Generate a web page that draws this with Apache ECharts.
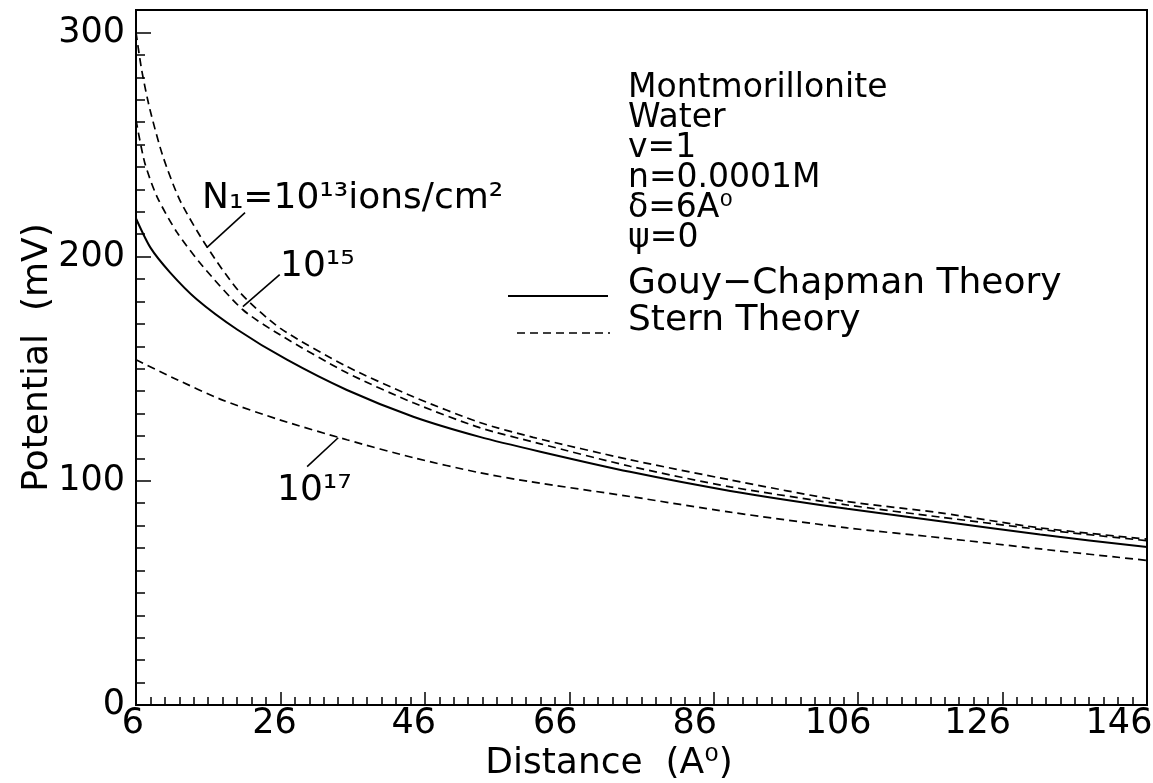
<!DOCTYPE html>
<html><head><meta charset="utf-8">
<script src="https://cdn.jsdelivr.net/npm/echarts/dist/echarts.min.js"></script>
<style>html,body{margin:0;padding:0;background:#fff}#c{width:1153px;height:783px}</style>
</head><body><div id="c"></div>
<script>
// ---- data ----
const xTicks = [6, 26, 46, 66, 86, 106, 126, 146];
const yTicks = [0, 100, 200, 300];
// Gouy-Chapman theory (solid)
const gcX = [6, 8, 10.7, 14.4, 20, 26.9, 35.2, 44.4, 53.6, 62, 74.4, 88.3, 104.5, 117.4, 131.2, 146];
const gcY = [217, 204, 193, 181, 167.5, 154, 140.5, 128.6, 119.6, 113, 104, 95.5, 87.5, 82, 76, 70.5];
// Stern theory, N1 = 1e13 ions/cm2
const s13X = [6, 6.8, 7.9, 9.7, 12.1, 15.8, 20.4, 26, 35.2, 44.4, 53.6, 61, 74.4, 88.3, 104, 117.4, 131.2, 146];
const s13Y = [300, 283, 266, 245, 225, 204.5, 184, 168, 151, 137.5, 126, 119.4, 109.4, 100.4, 91, 85.7, 79, 74];
// Stern theory, N1 = 1e15
const s15X = [6, 7.2, 8.9, 11.7, 15.3, 20.8, 26, 35.2, 44.4, 53.6, 62, 74.4, 88.3, 104.5, 117.4, 131.2, 146];
const s15Y = [261, 242, 226.8, 210.7, 195.5, 176.3, 165, 148.2, 134.8, 123.7, 116.5, 106.5, 97.3, 89.2, 83.8, 78.3, 73.3];
// Stern theory, N1 = 1e17
const s17X = [6, 11.1, 18, 25.9, 35.2, 44.4, 53.6, 60.6, 74.4, 88.3, 104.5, 117.4, 131.2, 146];
const s17Y = [154, 146, 136, 127.2, 118.3, 110.3, 103.6, 99.6, 93, 86, 79, 74.6, 69.6, 64.5];
const seriesNames = ['Gouy\u2212Chapman Theory', 'Stern Theory'];
const paramLines = ['Montmorillonite', 'Water', 'v=1', 'n=0.0001M', '\u03b4=6A\u2070', '\u03c8=0'];
const curveLabels = ['N\u2081=10\u00b9\u00b3ions/cm\u00b2', '10\u00b9\u2075', '10\u00b9\u2077'];
// leader lines [from, to] in data units
const leader13 = [[21.1, 219.6], [15.8, 204]];
const leader15 = [[25.9, 192], [20.8, 177.7]];
const leader17 = [[29.7, 106.3], [34, 119.2]];

// ---- layout / style ----
const FONT = 'DejaVu Sans';
const BLACK = '#000';
const xLabelShift = [-3, -6, -11, -14, -19, -20, -25, -28];
const pairs = (xs, ys) => xs.map((x, i) => [x, ys[i]]);

const rich = {};
xLabelShift.forEach((s, i) => {
  rich['o' + i] = { fontFamily: FONT, fontSize: 35, color: BLACK, padding: s < 0 ? [0, -2 * s, 0, 0] : [0, 0, 0, 2 * s] };
});

const chart = echarts.init(document.getElementById('c'));
const leaderStyle = { type: 'solid', color: BLACK, width: 1.6 };
const mkLeader = (seg) => ({
  silent: true, symbol: ['none', 'none'], animation: false,
  label: { show: false }, lineStyle: leaderStyle, emphasis: { disabled: true },
  data: [[{ coord: seg[0] }, { coord: seg[1] }]]
});
const dashed = { type: [8, 5], color: BLACK, width: 1.7 };
const SMOOTH = 0.25;

const option = {
  animation: false,
  backgroundColor: '#fff',
  textStyle: { fontFamily: FONT },
  grid: { left: 136, right: 6, top: 10, bottom: 78, show: true, borderColor: BLACK, borderWidth: 2, containLabel: false, outerBoundsMode: 'none' },
  xAxis: {
    type: 'value', min: xTicks[0], max: xTicks[xTicks.length - 1], interval: xTicks[1] - xTicks[0],
    name: 'Distance\u00a0\u00a0(A\u2070)', nameLocation: 'middle', nameGap: 41, nameMoveOverlap: false,
    nameTextStyle: { fontFamily: FONT, fontSize: 36, color: BLACK, padding: [0, 65, 0, 0] },
    axisLine: { show: true, lineStyle: { color: BLACK, width: 2 } },
    axisTick: { show: true, inside: true, length: 13, lineStyle: { color: BLACK, width: 1.5 } },
    minorTick: { show: true, splitNumber: 10, length: 8, lineStyle: { color: BLACK, width: 1.5 } },
    splitLine: { show: false }, minorSplitLine: { show: false },
    axisLabel: {
      show: true, margin: 1, showMinLabel: true, showMaxLabel: true, hideOverlap: false,
      formatter: (v) => { const i = xTicks.indexOf(Math.round(v)); return '{o' + i + '|' + v + '}'; },
      rich: rich
    }
  },
  yAxis: [{
    type: 'value', min: yTicks[0], max: 310, interval: yTicks[1] - yTicks[0],
    name: 'Potential  (mV)', nameLocation: 'middle', nameGap: 80, nameRotate: 90, nameMoveOverlap: false,
    nameTextStyle: { fontFamily: FONT, fontSize: 36, color: BLACK },
    axisLine: { show: true, lineStyle: { color: BLACK, width: 2 } },
    axisTick: { show: true, inside: true, length: 15, lineStyle: { color: BLACK, width: 1.5 } },
    splitLine: { show: false },
    axisLabel: { show: true, margin: 11, fontFamily: FONT, fontSize: 35, color: BLACK, showMinLabel: true, showMaxLabel: false, hideOverlap: false,
      formatter: (v) => (yTicks.indexOf(v) >= 0 ? String(v) : '') }
  }, {
    type: 'value', min: yTicks[0], max: 310, interval: 10, position: 'left',
    axisLine: { show: false }, splitLine: { show: false }, axisLabel: { show: false },
    axisTick: { show: true, inside: true, length: 9, lineStyle: { color: BLACK, width: 1.5 } }
  }],
  series: [
    { name: seriesNames[0], type: 'line', data: pairs(gcX, gcY), symbol: 'none', smooth: SMOOTH,
      lineStyle: { type: 'solid', color: BLACK, width: 2 }, itemStyle: { color: BLACK }, z: 3,
      emphasis: { disabled: true }, markLine: mkLeader(leader13) },
    { name: seriesNames[1], type: 'line', data: pairs(s13X, s13Y), symbol: 'none', smooth: SMOOTH,
      lineStyle: dashed, itemStyle: { color: BLACK }, emphasis: { disabled: true }, markLine: mkLeader(leader15) },
    { name: seriesNames[1], type: 'line', data: pairs(s15X, s15Y), symbol: 'none', smooth: SMOOTH,
      lineStyle: dashed, itemStyle: { color: BLACK }, emphasis: { disabled: true }, markLine: mkLeader(leader17) },
    { name: seriesNames[1], type: 'line', data: pairs(s17X, s17Y), symbol: 'none', smooth: SMOOTH,
      lineStyle: dashed, itemStyle: { color: BLACK }, emphasis: { disabled: true } }
  ],
  graphic: [
    { type: 'text', left: 628, top: 72, silent: true,
      style: { text: paramLines.join('\n'), fontFamily: FONT, fontSize: 33, lineHeight: 30, fill: BLACK } },
    // legend
    { type: 'line', silent: true, shape: { x1: 508, y1: 296, x2: 608, y2: 296 }, style: { stroke: BLACK, lineWidth: 2 } },
    { type: 'line', silent: true, shape: { x1: 517, y1: 333, x2: 610, y2: 333 }, style: { stroke: BLACK, lineWidth: 1.7, lineDash: [8, 5] } },
    { type: 'text', left: 628, top: 265, silent: true,
      style: { text: seriesNames.join('\n'), fontFamily: FONT, fontSize: 36, lineHeight: 37, fill: BLACK } },
    // curve labels
    { type: 'text', left: 202, top: 181, silent: true,
      style: { text: curveLabels[0], fontFamily: FONT, fontSize: 36, fill: BLACK } },
    { type: 'text', left: 280, top: 249, silent: true,
      style: { text: curveLabels[1], fontFamily: FONT, fontSize: 36, fill: BLACK } },
    { type: 'text', left: 277, top: 473, silent: true,
      style: { text: curveLabels[2], fontFamily: FONT, fontSize: 36, fill: BLACK } }
  ]
};
chart.setOption(option);
</script>
</body></html>
